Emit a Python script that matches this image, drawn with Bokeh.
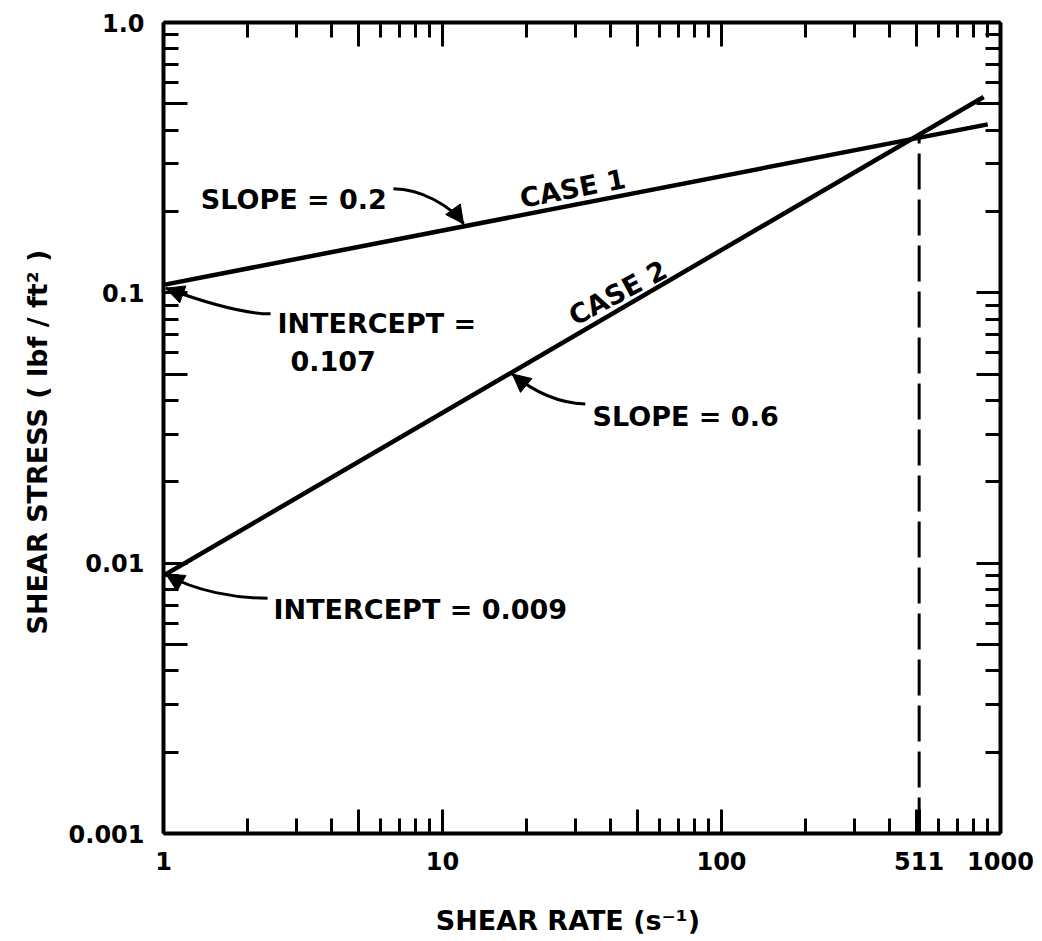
import math
from bokeh.plotting import figure
from bokeh.models import (FixedTicker, LogAxis, Label, Arrow, NormalHead, Range1d,
                          CustomJSTickFormatter)
from bokeh.embed import file_html
from bokeh.resources import INLINE

# ---- data ----
case1_rate = [1, 900]
case1_stress = [0.107, 0.42]
case2_rate = [1, 870]
case2_stress = [0.009, 0.53]
marker_rate = [511, 511]
marker_stress = [0.001, 0.375]

x_major = [1, 5, 10, 50, 100, 500, 511, 1000]
x_minor = [2, 3, 4, 6, 7, 8, 9, 20, 30, 40, 60, 70, 80, 90, 200, 300, 400, 600, 700, 800, 900]
x_labels = {1: "1", 5: "", 10: "10", 50: "", 100: "100", 500: "", 511: "511", 1000: "1000"}
y_major = [0.001, 0.005, 0.01, 0.05, 0.1, 0.5, 1.0]
y_minor = [0.002, 0.003, 0.004, 0.006, 0.007, 0.008, 0.009,
           0.02, 0.03, 0.04, 0.06, 0.07, 0.08, 0.09,
           0.2, 0.3, 0.4, 0.6, 0.7, 0.8, 0.9]
y_labels = {0.001: "0.001", 0.005: "", 0.01: "0.01", 0.05: "", 0.1: "0.1", 0.5: "", 1.0: "1.0"}

FONT = "DejaVu Sans"

p = figure(width=1040, height=940, x_axis_type="log", y_axis_type="log",
           x_range=Range1d(1, 1000), y_range=Range1d(0.001, 1.0),
           output_backend="svg", toolbar_location=None,
           min_border_left=163, min_border_right=40, min_border_top=22, min_border_bottom=107)
p.grid.visible = False
p.outline_line_color = None
p.background_fill_color = "white"
p.border_fill_color = "white"


def style_axis(ax, ticker, show_labels):
    ax.ticker = ticker
    ax.axis_line_width = 4
    ax.axis_line_color = "black"
    ax.major_tick_in = 24
    ax.major_tick_out = 0
    ax.minor_tick_in = 15
    ax.minor_tick_out = 0
    ax.major_tick_line_width = 3
    ax.minor_tick_line_width = 3
    ax.major_tick_line_color = "black"
    ax.minor_tick_line_color = "black"
    if not show_labels:
        ax.formatter = CustomJSTickFormatter(code="return ''")
        ax.major_label_standoff = 0


xt = FixedTicker(ticks=x_major, minor_ticks=x_minor)
yt = FixedTicker(ticks=y_major, minor_ticks=y_minor)

xa = p.xaxis[0]
style_axis(xa, xt, True)
xa.major_label_overrides = x_labels
xa.major_label_text_font = FONT
xa.major_label_text_font_style = "bold"
xa.major_label_text_font_size = "24px"
xa.major_label_text_color = "black"
xa.major_label_standoff = 18
xa.axis_label = "SHEAR  RATE   (s\u207b\u00b9)"
xa.axis_label_text_font = FONT
xa.axis_label_text_font_style = "bold"
xa.axis_label_text_font_size = "27px"
xa.axis_label_text_color = "black"
xa.axis_label_standoff = 32

ya = p.yaxis[0]
style_axis(ya, yt, True)
ya.major_label_overrides = y_labels
ya.major_label_text_font = FONT
ya.major_label_text_font_style = "bold"
ya.major_label_text_font_size = "24px"
ya.major_label_text_color = "black"
ya.major_label_standoff = 19
ya.major_label_orientation = "horizontal"
ya.axis_label = "SHEAR  STRESS   ( lbf / ft\u00b2 )"
ya.axis_label_text_font = FONT
ya.axis_label_text_font_style = "bold"
ya.axis_label_text_font_size = "27px"
ya.axis_label_text_color = "black"
ya.axis_label_standoff = 13

top = LogAxis()
style_axis(top, FixedTicker(ticks=[1, 5, 10, 50, 100, 500, 1000], minor_ticks=x_minor), False)
p.add_layout(top, "above")
right = LogAxis()
style_axis(right, FixedTicker(ticks=y_major, minor_ticks=y_minor), False)
p.add_layout(right, "right")

# ---- curves ----
p.line(case1_rate, case1_stress, line_width=4.5, line_color="black")
p.line(case2_rate, case2_stress, line_width=4.5, line_color="black")
p.line(marker_rate, marker_stress, line_width=3, line_color="black", line_dash="36 10")

# ---- annotation arrows (curved shafts + heads) ----
arrows = [
    # x0, y0, cx0, cy0, cx1, cy1, x1, y1
    (6.67, 0.2427, 8.34, 0.2427, 10.68, 0.210, 11.9, 0.180),
    (2.42, 0.0836, 1.888, 0.0836, 1.357, 0.0934, 1.02, 0.104),
    (32.5, 0.0388, 26.5, 0.0391, 21.5, 0.0426, 17.8, 0.0501),
    (2.36, 0.00742, 1.811, 0.00742, 1.302, 0.00787, 1.02, 0.0091),
]
p.bezier(x0=[a[0] for a in arrows], y0=[a[1] for a in arrows],
         cx0=[a[2] for a in arrows], cy0=[a[3] for a in arrows],
         cx1=[a[4] for a in arrows], cy1=[a[5] for a in arrows],
         x1=[a[6] for a in arrows], y1=[a[7] for a in arrows],
         line_width=3, line_color="black")
for a in arrows:
    p.add_layout(Arrow(end=NormalHead(size=18, fill_color="black", line_color="black", line_width=1),
                       x_start=a[4], y_start=a[5], x_end=a[6], y_end=a[7],
                       line_color=None))

# ---- annotation texts ----
texts = [
    ("SLOPE = 0.2", 1.36, 0.221, 0),
    ("CASE 1", 19.0, 0.223, 11),
    ("CASE 2", 28.8, 0.0808, 28),
    ("INTERCEPT =", 2.56, 0.0768, 0),
    ("0.107", 2.85, 0.056, 0),
    ("SLOPE = 0.6", 34.5, 0.035, 0),
    ("INTERCEPT = 0.009", 2.48, 0.00676, 0),
]
for t, x, y, ang in texts:
    p.add_layout(Label(x=x, y=y, text=t, angle=math.radians(ang),
                       text_font=FONT, text_font_style="bold", text_font_size="27px",
                       text_color="black", text_align="left", text_baseline="alphabetic"))

open("out.html", "w").write(file_html(p, INLINE))
